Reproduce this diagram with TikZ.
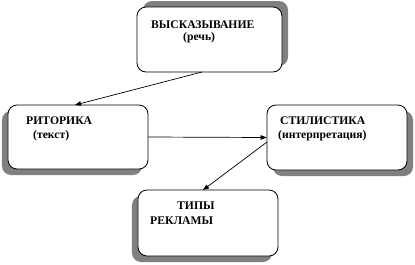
\documentclass[tikz,border=0pt]{standalone}
\usepackage{fontspec}
\setmainfont{Liberation Serif}
\usetikzlibrary{arrows.meta,shadows}
\begin{document}
\begin{tikzpicture}[x=1bp,y=-1bp,
  boxst/.style={draw=black,line width=0.8bp,fill=white,rounded corners=9bp,inner sep=0pt,minimum width=#1},
  shadUR/.style={general shadow={fill=black!50,shadow xshift=6bp,shadow yshift=6bp}},
  shadDL/.style={general shadow={fill=black!50,shadow xshift=-6bp,shadow yshift=-6bp}},
  shadDR/.style={general shadow={fill=black!50,shadow xshift=6bp,shadow yshift=-6bp}},
  lbl/.style={anchor=base west,inner sep=0pt,font=\bfseries\fontsize{11.7}{13}\selectfont},
  conn/.style={draw=black,line width=0.7bp,-{Triangle[length=6bp,width=4.5bp]}}]
\useasboundingbox (0,0) rectangle (415,265);
% boxes
\node[boxst=145bp,minimum height=65bp,shadUR] (top) at (209.5,39.5) {};
\node[boxst=140bp,minimum height=64bp,shadDL] (left) at (78,137) {};
\node[boxst=140bp,minimum height=65bp,shadDR] (right) at (337,137.5) {};
\node[boxst=140bp,minimum height=66bp,shadDL] (bot) at (208,223) {};
% texts
\node[lbl] (t1) at (151,28) {ВЫСКАЗЫВАНИЕ};
\node[lbl] (t2) at (183,40) {(речь)};
\node[lbl] (t3) at (26,124) {РИТОРИКА};
\node[lbl] (t4) at (33,138) {(текст)};
\node[lbl] (t5) at (280,124) {СТИЛИСТИКА};
\node[lbl] (t6) at (278,138) {(интерпретация)};
\node[lbl] (t7) at (177,209) {ТИПЫ};
\node[lbl] (t8) at (150,224) {РЕКЛАМЫ};
% connectors
\coordinate (a1) at (202,72);
\coordinate (a2) at (75,105);
\coordinate (c1) at (267,142);
\coordinate (c2) at (203,190);
\draw[conn] (a1) -- (a2);
\draw[conn] (left.east) -- (right.west);
\draw[conn] (c1) -- (c2);
\end{tikzpicture}
\end{document}
